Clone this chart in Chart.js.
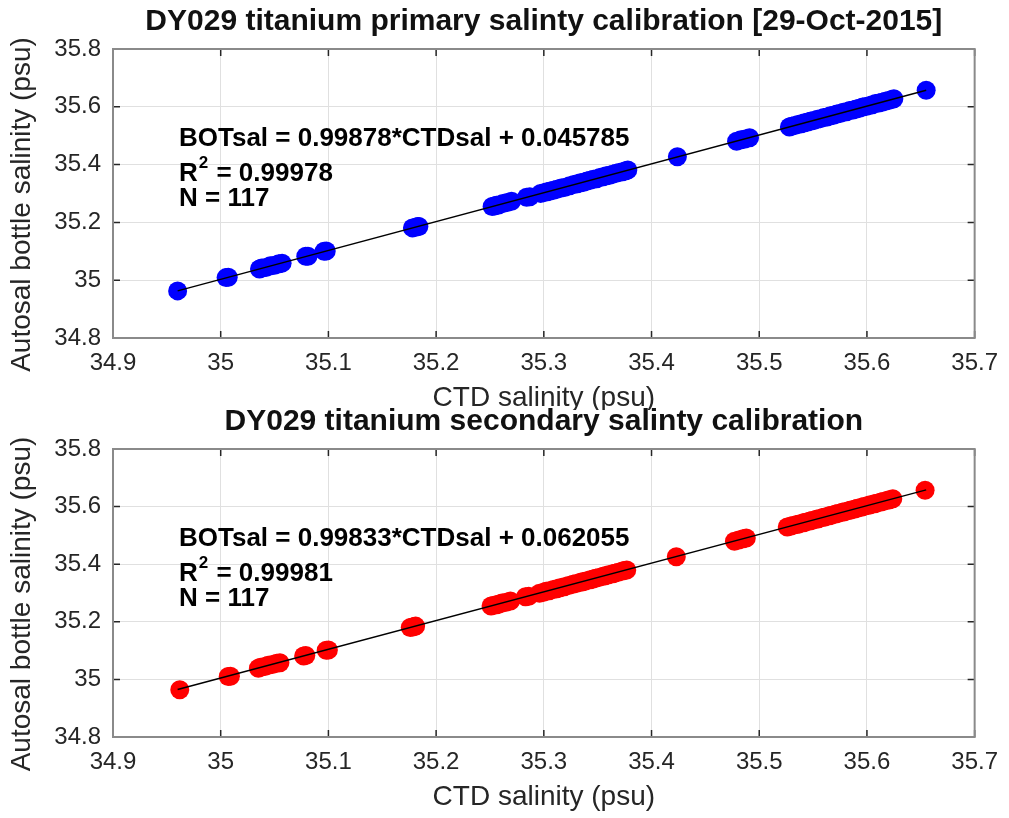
<!DOCTYPE html>
<html>
<head>
<meta charset="utf-8">
<script src="https://cdn.jsdelivr.net/npm/chart.js@4/dist/chart.umd.min.js"></script>
<style>
  body { margin: 0; background: #fff; }
  canvas { position: absolute; left: 0; }
</style>
</head>
<body>
<canvas id="primary" width="1009" height="410" style="top:0"></canvas>
<canvas id="secondary" width="1009" height="418" style="top:400px"></canvas>
<script>
// CTD salinity (x) and autosal bottle salinity (y)
const ctdPrimary = [
  34.960,
  35.005, 35.007,
  35.036, 35.038, 35.042, 35.046, 35.050, 35.054, 35.057,
  35.079, 35.081,
  35.096, 35.098,
  35.178, 35.181, 35.183, 35.184,
  35.252, 35.254, 35.256, 35.258, 35.262, 35.266, 35.270, 35.284, 35.287, 35.297,
  35.300, 35.303, 35.306, 35.309, 35.312, 35.316, 35.320, 35.324, 35.328, 35.331,
  35.334, 35.337, 35.340, 35.343, 35.346, 35.349, 35.352, 35.355, 35.358, 35.361,
  35.364, 35.367, 35.370, 35.373, 35.376, 35.378,
  35.424,
  35.479, 35.483, 35.487, 35.491,
  35.528, 35.530, 35.533, 35.536, 35.539, 35.542, 35.545, 35.548, 35.551, 35.554,
  35.557, 35.560, 35.563, 35.566, 35.569, 35.572, 35.575, 35.578, 35.581, 35.584,
  35.587, 35.590, 35.593, 35.596, 35.599, 35.602, 35.605, 35.608, 35.611, 35.614,
  35.617, 35.620, 35.623, 35.625,
  35.655
];
const botPrimary = [
  34.963,
  35.009, 35.010,
  35.039, 35.042, 35.044, 35.050, 35.052, 35.057, 35.059,
  35.083, 35.083,
  35.100, 35.101,
  35.181, 35.183, 35.186, 35.186,
  35.255, 35.257, 35.259, 35.260, 35.265, 35.269, 35.273, 35.287, 35.289, 35.300,
  35.303, 35.306, 35.309, 35.311, 35.315, 35.319, 35.322, 35.327, 35.331, 35.334,
  35.337, 35.339, 35.343, 35.346, 35.349, 35.351, 35.355, 35.358, 35.361, 35.363,
  35.367, 35.370, 35.373, 35.375, 35.379, 35.381,
  35.427,
  35.481, 35.486, 35.489, 35.493,
  35.530, 35.533, 35.535, 35.539, 35.541, 35.545, 35.547, 35.551, 35.553, 35.557,
  35.559, 35.563, 35.565, 35.569, 35.571, 35.575, 35.577, 35.581, 35.583, 35.587,
  35.589, 35.592, 35.595, 35.599, 35.601, 35.604, 35.607, 35.611, 35.613, 35.616,
  35.619, 35.622, 35.625, 35.628,
  35.657
];
const ctdSecondary = [
  34.962,
  35.007, 35.009,
  35.035, 35.037, 35.041, 35.044, 35.048, 35.052, 35.055,
  35.077, 35.079,
  35.098, 35.100,
  35.176, 35.178, 35.180, 35.181,
  35.251, 35.253, 35.256, 35.258, 35.261, 35.265, 35.269, 35.283, 35.286, 35.296,
  35.300, 35.302, 35.305, 35.309, 35.312, 35.315, 35.319, 35.323, 35.327, 35.330,
  35.334, 35.336, 35.339, 35.343, 35.346, 35.348, 35.351, 35.355, 35.357, 35.360,
  35.364, 35.366, 35.369, 35.373, 35.375, 35.377,
  35.423,
  35.477, 35.481, 35.485, 35.488,
  35.526, 35.529, 35.531, 35.535, 35.537, 35.541, 35.543, 35.547, 35.549, 35.553,
  35.555, 35.559, 35.561, 35.565, 35.567, 35.571, 35.573, 35.577, 35.579, 35.583,
  35.585, 35.589, 35.591, 35.595, 35.597, 35.601, 35.603, 35.607, 35.609, 35.613,
  35.615, 35.619, 35.621, 35.624,
  35.654
];
const botSecondary = [
  34.964,
  35.010, 35.011,
  35.039, 35.042, 35.045, 35.049, 35.052, 35.056, 35.058,
  35.081, 35.083,
  35.101, 35.102,
  35.180, 35.182, 35.184, 35.185,
  35.255, 35.257, 35.259, 35.261, 35.265, 35.268, 35.272, 35.287, 35.289, 35.299,
  35.303, 35.306, 35.308, 35.312, 35.315, 35.318, 35.322, 35.326, 35.330, 35.333,
  35.337, 35.339, 35.342, 35.346, 35.349, 35.351, 35.354, 35.358, 35.360, 35.363,
  35.367, 35.369, 35.372, 35.376, 35.378, 35.380,
  35.426,
  35.480, 35.484, 35.488, 35.491,
  35.529, 35.532, 35.534, 35.538, 35.540, 35.544, 35.546, 35.550, 35.552, 35.556,
  35.558, 35.562, 35.564, 35.568, 35.570, 35.574, 35.576, 35.580, 35.582, 35.586,
  35.588, 35.592, 35.594, 35.598, 35.600, 35.604, 35.606, 35.610, 35.612, 35.616,
  35.618, 35.622, 35.624, 35.627,
  35.657
];

// regression line end points (x, y)
const fitX = [34.960, 35.655];
const fitPrimaryY = [34.963, 35.657];
const fitSecondaryY = [34.965, 35.658];

const xTicks = [34.9, 35, 35.1, 35.2, 35.3, 35.4, 35.5, 35.6, 35.7];
const yTicks = [34.8, 35, 35.2, 35.4, 35.6, 35.8];

const FONT = '"Liberation Sans", Arial, sans-serif';
const TXT = '#262626';

function pairs(xs, ys) {
  return xs.map((x, i) => ({ x: x, y: ys[i] }));
}

function decor(title, eqn, r2, n) {
  return {
    id: 'decor',
    afterDraw(chart) {
      const ctx = chart.ctx;
      const a = chart.chartArea;
      const xs = chart.scales.x, ys = chart.scales.y;
      const cx = (a.left + a.right) / 2;
      ctx.save();
      // inward tick marks on all four sides
      ctx.strokeStyle = TXT;
      ctx.lineWidth = 1.5;
      ctx.beginPath();
      xTicks.forEach(v => {
        const p = xs.getPixelForValue(v);
        ctx.moveTo(p, a.bottom); ctx.lineTo(p, a.bottom - 7);
        ctx.moveTo(p, a.top); ctx.lineTo(p, a.top + 7);
      });
      yTicks.forEach(v => {
        const p = ys.getPixelForValue(v);
        ctx.moveTo(a.left, p); ctx.lineTo(a.left + 7, p);
        ctx.moveTo(a.right, p); ctx.lineTo(a.right - 7, p);
      });
      ctx.stroke();
      // box
      ctx.strokeStyle = '#8a8a8a';
      ctx.lineWidth = 2;
      ctx.strokeRect(a.left, a.top, a.right - a.left, a.bottom - a.top);

      // title
      ctx.fillStyle = '#111';
      ctx.font = 'bold 30px ' + FONT;
      ctx.textAlign = 'center';
      ctx.textBaseline = 'middle';
      ctx.fillText(title, cx, a.top - 27);

      // axis titles
      ctx.fillStyle = TXT;
      ctx.font = '28px ' + FONT;
      ctx.fillText('CTD salinity (psu)', cx, a.bottom + 60);
      ctx.save();
      ctx.translate(22, (a.top + a.bottom) / 2 + 11);
      ctx.rotate(-Math.PI / 2);
      ctx.fillText('Autosal bottle salinity (psu)', 0, 0);
      ctx.restore();

      // fit annotation
      const lx = a.left + 66;
      ctx.fillStyle = '#000';
      ctx.textAlign = 'left';
      ctx.textBaseline = 'alphabetic';
      ctx.font = 'bold 26px ' + FONT;
      ctx.fillText(eqn, lx, a.top + 97);
      ctx.fillText('R', lx, a.top + 132);
      const rw = ctx.measureText('R').width;
      ctx.font = 'bold 17px ' + FONT;
      ctx.fillText('2', lx + rw + 1, a.top + 119);
      const sw = ctx.measureText('2').width;
      ctx.font = 'bold 26px ' + FONT;
      ctx.fillText(' = ' + r2, lx + rw + sw + 2, a.top + 132);
      ctx.fillText('N = ' + n, lx, a.top + 157);
      ctx.restore();
    }
  };
}

function makeChart(id, ctd, bot, fitY, color, xHeight, title, eqn, r2, n) {
  new Chart(document.getElementById(id).getContext('2d'), {
    type: 'scatter',
    data: {
      datasets: [
        {
          type: 'line',
          data: pairs(fitX, fitY),
          borderColor: '#000',
          borderWidth: 1.5,
          pointRadius: 0,
          fill: false,
          order: 0
        },
        {
          data: pairs(ctd, bot),
          backgroundColor: color,
          borderColor: color,
          borderWidth: 0,
          pointRadius: 9.5,
          order: 1
        }
      ]
    },
    options: {
      responsive: false,
      animation: false,
      devicePixelRatio: 1,
      events: [],
      layout: { autoPadding: false, padding: { top: 49, right: 29, left: 0, bottom: 0 } },
      plugins: { legend: { display: false }, tooltip: { enabled: false }, title: { display: false } },
      scales: {
        x: {
          type: 'linear', min: 34.9, max: 35.7,
          afterBuildTicks: s => { s.ticks = xTicks.map(v => ({ value: v })); },
          afterFit: s => { s.height = xHeight; },
          grid: { color: '#e0e0e0', lineWidth: 1, drawTicks: false },
          border: { display: false },
          ticks: {
            padding: 11, color: TXT, font: { family: FONT, size: 24 },
            maxRotation: 0, autoSkip: false,
            callback: v => String(Number(v.toFixed(1)))
          }
        },
        y: {
          type: 'linear', min: 34.8, max: 35.8,
          afterBuildTicks: s => { s.ticks = yTicks.map(v => ({ value: v })); },
          afterFit: s => { s.width = 113; },
          grid: { color: '#e0e0e0', lineWidth: 1, drawTicks: false },
          border: { display: false },
          ticks: {
            padding: 12, color: TXT, font: { family: FONT, size: 24 },
            autoSkip: false,
            callback: v => String(Number(v.toFixed(1)))
          }
        }
      }
    },
    plugins: [decor(title, eqn, r2, n)]
  });
}

makeChart('primary', ctdPrimary, botPrimary, fitPrimaryY, '#0000ff', 72,
  'DY029 titanium primary salinty calibration [29-Oct-2015]',
  'BOTsal = 0.99878*CTDsal + 0.045785', '0.99978', 117);
makeChart('secondary', ctdSecondary, botSecondary, fitSecondaryY, '#ff0000', 81,
  'DY029 titanium secondary salinty calibration',
  'BOTsal = 0.99833*CTDsal + 0.062055', '0.99981', 117);
</script>
</body>
</html>
